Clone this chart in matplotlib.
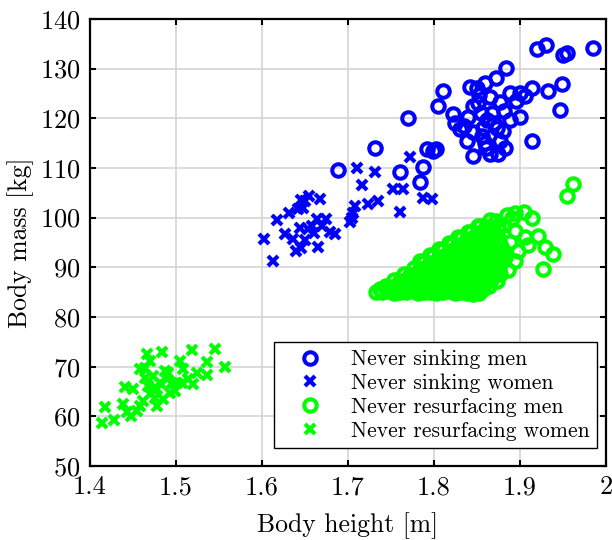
import matplotlib
matplotlib.use("Agg")
import matplotlib.pyplot as plt

plt.rcParams['font.family'] = ['cmr10', 'DejaVu Serif']
plt.rcParams['mathtext.fontset'] = 'cm'
plt.rcParams['axes.formatter.use_mathtext'] = True

# never sinking men (blue circles)
sink_men_h = [1.920, 1.930, 1.950, 1.955, 1.985, 1.884, 1.872, 1.859, 1.842, 1.810,
              1.805, 1.822, 1.914, 1.933, 1.949, 1.947, 1.914, 1.900, 1.888, 1.900,
              1.877, 1.865, 1.851, 1.853, 1.840, 1.830, 1.862, 1.880, 1.877, 1.883,
              1.838, 1.845, 1.865, 1.792, 1.803, 1.873, 1.867, 1.888, 1.731, 1.770,
              1.688, 1.760, 1.784, 1.787, 1.799, 1.825, 1.835, 1.846, 1.856, 1.860,
              1.870, 1.855, 1.845, 1.881, 1.895, 1.906, 1.850, 1.861, 1.875, 1.857]
sink_men_m = [133.9, 134.7, 132.7, 133.1, 134.1, 130.2, 128.2, 127.0, 126.2, 125.4,
              122.4, 120.8, 126.0, 125.4, 126.8, 121.6, 115.5, 120.2, 125.0, 125.0,
              123.2, 124.2, 123.0, 124.6, 120.2, 117.9, 119.6, 117.5, 115.5, 114.1,
              115.5, 112.5, 112.9, 113.9, 113.9, 118.1, 121.0, 119.6, 114.1, 120.0,
              109.5, 109.1, 107.1, 110.1, 113.5, 119.0, 118.5, 117.3, 116.5, 115.0,
              119.0, 121.0, 122.5, 121.5, 123.5, 124.5, 126.0, 114.0, 112.8, 118.0]

# never sinking women (blue crosses)
sink_women_h = [1.602, 1.613, 1.617, 1.627, 1.631, 1.636, 1.642, 1.646, 1.650, 1.667,
                1.640, 1.646, 1.650, 1.644, 1.654, 1.658, 1.664, 1.670, 1.674, 1.665,
                1.679, 1.685, 1.702, 1.706, 1.708, 1.723, 1.735, 1.716, 1.711, 1.732,
                1.752, 1.764, 1.760, 1.772, 1.787, 1.798, 1.705, 1.655, 1.648, 1.660]
sink_women_m = [95.6, 91.3, 99.6, 96.8, 101.0, 95.6, 101.8, 103.6, 103.4, 103.8,
                93.3, 93.8, 95.4, 98.0, 97.8, 98.4, 99.8, 98.4, 99.8, 94.0,
                97.2, 96.8, 99.2, 101.0, 102.4, 102.8, 103.4, 106.5, 109.9, 109.1,
                105.8, 105.8, 101.2, 112.3, 104.0, 103.8, 100.0, 104.3, 102.0, 97.0]

# never resurfacing men (green circles)
resurf_men_h = [
    1.733, 1.740, 1.747, 1.754, 1.761, 1.768, 1.775, 1.782, 1.789, 1.796, 1.803, 1.810, 1.817, 1.824, 1.831, 1.838, 1.846, 1.853,
    1.737, 1.744, 1.751, 1.758, 1.765, 1.772, 1.779, 1.786, 1.793, 1.800, 1.807, 1.814, 1.821, 1.828, 1.835, 1.842, 1.850, 1.857,
    1.744, 1.751, 1.758, 1.765, 1.772, 1.779, 1.786, 1.793, 1.800, 1.807, 1.814, 1.821, 1.828, 1.835, 1.842, 1.849, 1.856, 1.864,
    1.754, 1.761, 1.768, 1.775, 1.782, 1.789, 1.796, 1.803, 1.810, 1.817, 1.824, 1.831, 1.838, 1.845, 1.852, 1.859, 1.866, 1.873,
    1.765, 1.772, 1.779, 1.786, 1.793, 1.800, 1.807, 1.814, 1.821, 1.828, 1.835, 1.842, 1.849, 1.856, 1.863, 1.870, 1.877,
    1.777, 1.784, 1.791, 1.798, 1.805, 1.812, 1.819, 1.826, 1.833, 1.840, 1.847, 1.854, 1.861, 1.868, 1.876,
    1.788, 1.795, 1.802, 1.809, 1.816, 1.823, 1.830, 1.837, 1.844, 1.851, 1.858, 1.865, 1.872, 1.879,
    1.799, 1.806, 1.813, 1.820, 1.827, 1.834, 1.841, 1.848, 1.855, 1.862, 1.869, 1.876,
    1.810, 1.817, 1.824, 1.831, 1.838, 1.845, 1.852, 1.859, 1.866, 1.873, 1.880,
    1.821, 1.828, 1.835, 1.842, 1.849, 1.856, 1.863, 1.870, 1.877,
    1.832, 1.839, 1.846, 1.853, 1.860, 1.867, 1.874,
    1.843, 1.850, 1.857, 1.864, 1.871,
    1.854, 1.861, 1.868, 1.875,
    1.865, 1.872,
    1.784, 1.795, 1.806, 1.817, 1.828, 1.840, 1.851,
    1.894, 1.891, 1.914, 1.921, 1.929, 1.938, 1.927, 1.909, 1.906, 1.894,
    1.898, 1.894, 1.962, 1.955, 1.885, 1.880, 1.888, 1.886, 1.883, 1.905]
resurf_men_m = [
    85.1, 85.0, 85.2, 84.9, 85.1, 85.0, 85.2, 84.9, 85.0, 85.1, 84.9, 85.0, 85.2, 84.9, 85.0, 84.8, 84.7, 84.9,
    85.6, 85.7, 85.5, 85.6, 85.7, 85.6, 85.5, 85.7, 85.6, 85.6, 85.5, 85.7, 85.6, 85.5, 85.6, 85.7, 85.5, 85.6,
    86.3, 86.1, 86.2, 86.4, 86.0, 86.2, 86.3, 86.1, 86.2, 86.0, 86.3, 86.2, 86.1, 86.4, 86.0, 86.2, 86.1, 86.3,
    87.5, 87.3, 87.4, 87.6, 87.2, 87.4, 87.5, 87.3, 87.4, 87.2, 87.5, 87.4, 87.3, 87.6, 87.2, 87.4, 87.5, 87.3,
    88.7, 88.5, 88.6, 88.8, 88.4, 88.6, 88.7, 88.5, 88.6, 88.4, 88.7, 88.6, 88.5, 88.8, 88.4, 88.6, 88.7,
    89.9, 89.7, 89.8, 90.0, 89.6, 89.8, 89.9, 89.7, 89.8, 89.6, 89.9, 89.8, 89.7, 90.0, 89.6,
    91.1, 90.9, 91.0, 91.2, 90.8, 91.0, 91.1, 90.9, 91.0, 90.8, 91.1, 91.0, 90.9, 91.2,
    92.3, 92.1, 92.2, 92.4, 92.0, 92.2, 92.3, 92.1, 92.2, 92.0, 92.3, 92.2,
    93.5, 93.3, 93.4, 93.6, 93.2, 93.4, 93.5, 93.3, 93.4, 93.2, 93.5,
    94.7, 94.5, 94.6, 94.8, 94.4, 94.6, 94.7, 94.5, 94.6,
    95.9, 95.7, 95.8, 96.0, 95.6, 95.8, 95.9,
    97.1, 96.9, 97.0, 97.2, 96.8,
    98.3, 98.1, 98.2, 98.4,
    99.5, 99.3,
    91.2, 92.4, 93.6, 94.8, 96.0, 97.2, 98.4,
    101.0, 100.0, 100.0, 96.2, 94.0, 92.7, 89.7, 94.4, 96.0, 91.3,
    93.3, 97.4, 106.7, 104.4, 100.5, 98.5, 95.0, 89.5, 92.0, 101.2]

# never resurfacing women (green crosses)
resurf_women_h = [1.414, 1.417, 1.428, 1.438, 1.441, 1.450, 1.443, 1.448, 1.455, 1.458,
                  1.462, 1.466, 1.484, 1.470, 1.464, 1.464, 1.467, 1.470, 1.476, 1.478,
                  1.481, 1.487, 1.491, 1.485, 1.493, 1.499, 1.505, 1.508, 1.507, 1.514,
                  1.519, 1.545, 1.536, 1.524, 1.536, 1.557, 1.520, 1.495, 1.473, 1.458,
                  1.473, 1.478, 1.501, 1.490]
resurf_women_m = [58.7, 61.9, 59.3, 62.5, 65.9, 65.5, 60.9, 60.1, 61.1, 62.1,
                  63.1, 72.6, 73.0, 71.2, 69.8, 67.7, 66.1, 64.5, 63.7, 65.5,
                  66.7, 69.2, 68.8, 63.5, 64.7, 65.1, 71.2, 69.6, 66.7, 67.5,
                  73.4, 73.6, 71.0, 68.8, 68.3, 70.0, 66.5, 66.7, 68.1, 69.6,
                  65.5, 62.1, 66.7, 67.5]

x_ticks = [1.4, 1.5, 1.6, 1.7, 1.8, 1.9, 2.0]
x_tick_labels = ['1.4', '1.5', '1.6', '1.7', '1.8', '1.9', '2']
y_ticks = [50, 60, 70, 80, 90, 100, 110, 120, 130, 140]

fig = plt.figure(figsize=(6.12, 5.4), dpi=100)
ax = fig.add_axes([0.147, 0.137, 0.843, 0.828])

blue = (0, 0, 1)
green = (0, 1, 0)
ax.plot(sink_men_h, sink_men_m, 'o', mfc='none', mec=blue, ms=9, mew=2.9,
        label='Never sinking men')
ax.plot(sink_women_h, sink_women_m, 'x', color=blue, ms=7, mew=3,
        label='Never sinking women')
ax.plot(resurf_men_h, resurf_men_m, 'o', mfc='none', mec=green, ms=9, mew=2.9,
        label='Never resurfacing men')
ax.plot(resurf_women_h, resurf_women_m, 'x', color=green, ms=7, mew=3,
        label='Never resurfacing women')

ax.set_xlim(1.4, 2.0)
ax.set_ylim(50, 140)
ax.set_xticks(x_ticks)
ax.set_xticklabels(x_tick_labels)
ax.set_yticks(y_ticks)
ax.tick_params(direction='in', top=True, right=True, length=4.5, width=1.5,
               labelsize=19, pad=7)
ax.grid(True, color='#d4d4d4', linewidth=1.2)
ax.set_axisbelow(True)
for s in ax.spines.values():
    s.set_linewidth(1.6)

ax.set_xlabel('Body height [m]', fontsize=18.5, labelpad=9)
ax.set_ylabel('Body mass [kg]', fontsize=18.5, labelpad=4)

leg = ax.legend(loc='lower right', bbox_to_anchor=(0.983, 0.04), borderaxespad=0,
                fontsize=15.5, frameon=True, fancybox=False, edgecolor='black',
                framealpha=1, handlelength=2.6, handletextpad=0.6,
                labelspacing=0.2, borderpad=0.35)
leg.get_frame().set_linewidth(1.0)

fig.savefig('out.png', dpi=100)
